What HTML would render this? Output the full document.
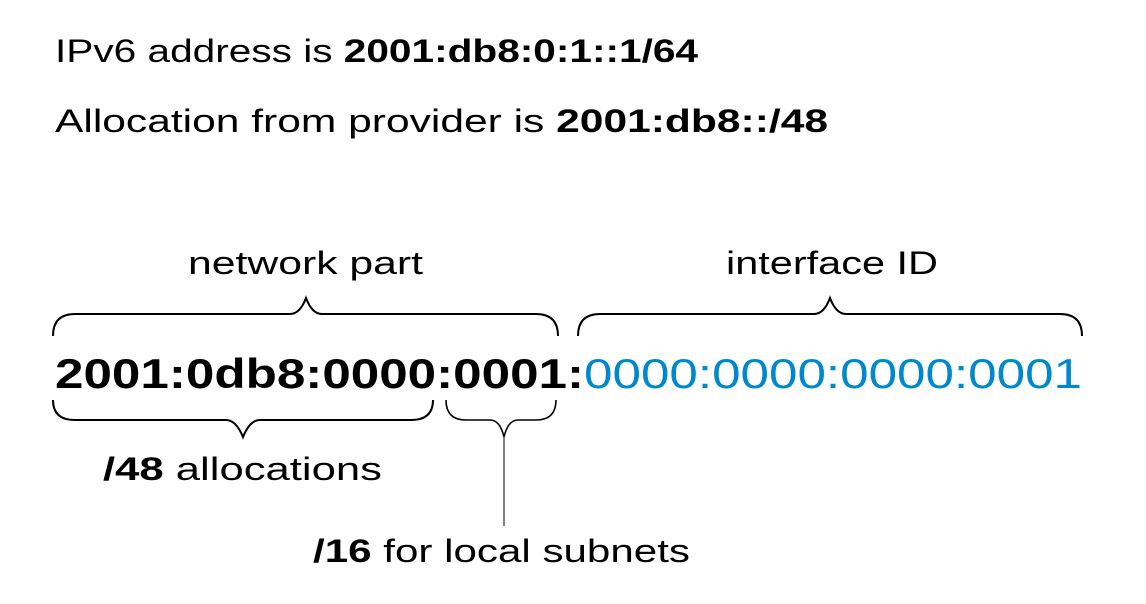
<!DOCTYPE html>
<html><head><style>html,body{margin:0;background:#fff}svg{display:block}</style></head>
<body>
<svg width="1146" height="604" viewBox="0 0 1146 604" xmlns="http://www.w3.org/2000/svg" font-family="Liberation Sans, sans-serif" fill="#000">
<text x="55" y="62" font-size="32" textLength="643" lengthAdjust="spacingAndGlyphs">IPv6 address is <tspan font-weight="bold">2001:db8:0:1::1/64</tspan></text>
<text x="55" y="132" font-size="32" textLength="773" lengthAdjust="spacingAndGlyphs">Allocation from provider is <tspan font-weight="bold">2001:db8::/48</tspan></text>
<text x="188" y="274" font-size="32" textLength="235" lengthAdjust="spacingAndGlyphs">network part</text>
<text x="726" y="274" font-size="32" textLength="212" lengthAdjust="spacingAndGlyphs">interface ID</text>
<text x="55" y="388" font-size="42" font-weight="bold" textLength="1027" lengthAdjust="spacingAndGlyphs">2001:0db8:0000:0001:<tspan fill="#0088ce" font-weight="normal">0000:0000:0000:0001</tspan></text>
<text x="103" y="480" font-size="32" textLength="279" lengthAdjust="spacingAndGlyphs"><tspan font-weight="bold">/48</tspan> allocations</text>
<text x="313" y="562" font-size="32" textLength="377" lengthAdjust="spacingAndGlyphs"><tspan font-weight="bold">/16</tspan> for local subnets</text>
<g fill="none" stroke="#000" stroke-width="2">
<path d="M53 336 Q53 314 75 314 L290 314 Q300 314 306 298 Q312 314 322 314 L536 314 Q558 314 558 336"/>
<path d="M578 336 Q578 314 600 314 L814 314 Q824 314 830 298 Q836 314 846 314 L1060 314 Q1082 314 1082 336"/>
<path d="M53 400 Q53 420 75 420 L226 420 Q236 420 243 437 Q250 420 260 420 L411 420 Q433 420 433 400"/>
<path d="M446 400 Q446 420 466 420 L490 420 Q500 420 504 437 Q508 420 518 420 L536 420 Q556 420 556 400" stroke-width="1.6"/>
<path d="M504 437 L504 526" stroke="#555" stroke-width="1.5"/>
</g>
</svg>
</body></html>
